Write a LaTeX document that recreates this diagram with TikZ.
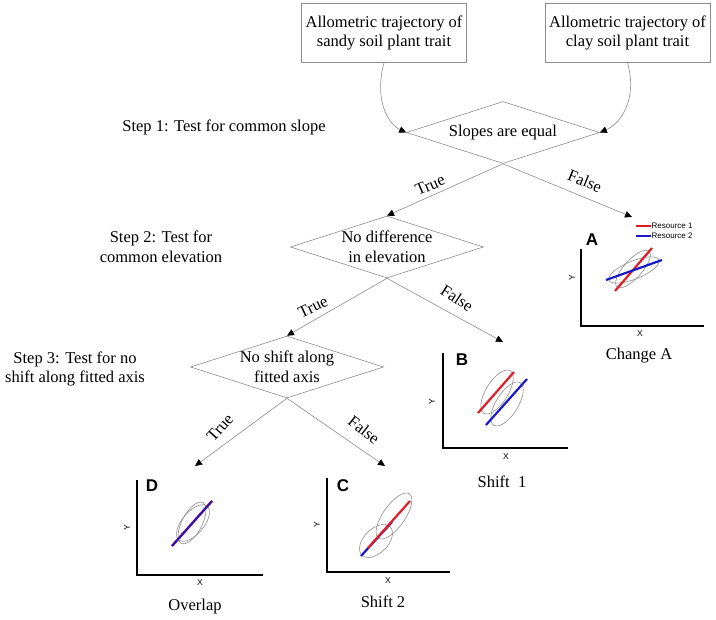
\documentclass[tikz,border=0pt]{standalone}
\usepackage{fontspec}
\setmainfont{Liberation Serif}
\newfontfamily\arialf{Liberation Sans}
\usetikzlibrary{shapes.geometric,arrows.meta}
\definecolor{res1}{RGB}{220,30,40}
\definecolor{res2}{RGB}{25,25,200}
\definecolor{lgray}{RGB}{140,140,140}
\begin{document}
\begin{tikzpicture}[x=1pt,y=-1pt,
  txt/.style={font=\fontsize{16.5}{19.8}\selectfont, align=center, inner sep=0pt},
  box/.style={draw=lgray, line width=0.6pt, minimum width=165pt, minimum height=59pt, txt},
  dia/.style={diamond, draw=lgray, line width=0.6pt, minimum width=193pt, minimum height=62pt, inner sep=0pt},
  conn/.style={draw=lgray, line width=0.6pt, -{Triangle[length=7pt,width=6.5pt,color=black]}},
  axisline/.style={line width=2pt, black},
  ell/.style={draw=lgray, line width=0.6pt},
  rline/.style={draw=res1, line width=2.2pt},
  bline/.style={draw=res2, line width=2.2pt},
  letter/.style={font=\arialf\bfseries\fontsize{17}{18}\selectfont, inner sep=0pt},
  small/.style={font=\arialf\fontsize{8.5}{9}\selectfont, inner sep=0pt},
  legend/.style={font=\arialf\fontsize{8}{9}\selectfont, inner sep=0pt, anchor=west}
]
\useasboundingbox (0,0) rectangle (716,620);

% top boxes
\node[box] (b1) at (384,33) {Allometric trajectory of\\sandy soil plant trait};
\node[box] (b2) at (627.5,33) {Allometric trajectory of\\clay soil plant trait};

% diamonds
\node[dia] (d1) at (503,132.5) {};
\node[txt] (d1t) at (503,133) {Slopes are equal};
\node[dia] (d2) at (387,247) {};
\node[txt] (d2t) at (387,247) {No difference\\in elevation};
\node[dia] (d3) at (287,367) {};
\node[txt] (d3t) at (287,367) {No shift along\\fitted axis};

% step labels
\node[txt] (s1) at (224,127) {Step 1: Test for common slope};
\node[txt] (s2) at (161,247) {Step 2: Test for\\common elevation};
\node[txt] (s3) at (75,369) {Step 3: Test for no\\shift along fitted axis};

% curved inputs
\draw[conn] (b1.south) .. controls (374,100) and (388,124) .. (d1.west);
\draw[conn] (b2.south) .. controls (638,100) and (620,124) .. (d1.east);

% end points of connectors
\coordinate (pA) at (632,217);
\coordinate (pB) at (503,342);
\coordinate (pC) at (385,466);
\coordinate (pD) at (195,466);

\draw[conn] (d1.south) -- (d2.north);
\draw[conn] (d1.south) -- (pA);
\draw[conn] (d2.south) -- (d3.north);
\draw[conn] (d2.south) -- (pB);
\draw[conn] (d3.south) -- (pD);
\draw[conn] (d3.south) -- (pC);

% branch labels
\node[txt, rotate=23] (t1) at (430,185) {True};
\node[txt, rotate=-22] (f1) at (585,181) {False};
\node[txt, rotate=25] (t2) at (313,307) {True};
\node[txt, rotate=-33] (f2) at (457,298) {False};
\node[txt, rotate=48] (t3) at (220,428) {True};
\node[txt, rotate=-38] (f3) at (364,430) {False};

% ---------- Plot A ----------
\draw[res1, line width=1.4pt] (636,226) -- (651,226);
\node[legend] (lg1) at (651.5,226) {Resource 1};
\draw[res2, line width=1.4pt] (636,236) -- (651,236);
\node[legend] (lg2) at (651.5,236) {Resource 2};
\node[letter] (la) at (592,240) {A};
\draw[axisline] (581,249) -- (581,326) -- (704,326);
\node[small, rotate=90] (ya) at (572,278) {Y};
\node[small] (xa) at (640,334) {X};
\draw[ell, rotate around={48:(633,269)}] (633,269) ellipse [x radius=24pt, y radius=9pt];
\draw[ell, rotate around={22:(634,270)}] (634,270) ellipse [x radius=27pt, y radius=9pt];
\draw[rline] (615,291) -- (652,248);
\draw[bline] (606,280) -- (662,260);
\node[txt] (ca) at (639,356) {Change A};

% ---------- Plot B ----------
\node[letter] (lb) at (462,360) {B};
\draw[axisline] (443,353) -- (443,448) -- (568,448);
\node[small, rotate=90] (yb) at (432,402) {Y};
\node[small] (xb) at (506,457) {X};
\draw[ell, rotate around={58:(497,392)}] (497,392) ellipse [x radius=25pt, y radius=11pt];
\draw[ell, rotate around={58:(507,404)}] (507,404) ellipse [x radius=25pt, y radius=11pt];
\draw[rline] (478,413) -- (514,372);
\draw[bline] (486,425) -- (527,379);
\node[txt] (cb) at (502,482) {Shift\ \ 1};

% ---------- Plot C ----------
\node[letter] (lc) at (343,486) {C};
\draw[axisline] (327,478) -- (327,572) -- (450,572);
\node[small, rotate=90] (yc) at (317,525) {Y};
\node[small] (xc) at (388,581) {X};
\draw[ell, rotate around={45:(376,541)}] (376,541) ellipse [x radius=20pt, y radius=12pt];
\draw[ell, rotate around={55:(394,516)}] (394,516) ellipse [x radius=27pt, y radius=11pt];
\draw[bline] (361,556) -- (392,522);
\draw[rline] (368,548) -- (410,501);
\node[txt] (cc) at (383,602) {Shift 2};

% ---------- Plot D ----------
\node[letter] (ld) at (152,486) {D};
\draw[axisline] (137,480) -- (137,575) -- (263,575);
\node[small, rotate=90] (yd) at (127,528) {Y};
\node[small] (xd) at (200,583) {X};
\draw[ell, rotate around={62:(192,523)}] (192,523) ellipse [x radius=23pt, y radius=10pt];
\draw[ell, rotate around={50:(193,523)}] (193,523) ellipse [x radius=22pt, y radius=11pt];
\draw[rline, line width=2.5pt] (172,546) -- (212,501);
\draw[bline, line width=1.8pt] (172,546) -- (212,501);
\node[txt] (cd) at (195,607) {Overlap};
\end{tikzpicture}
\end{document}
